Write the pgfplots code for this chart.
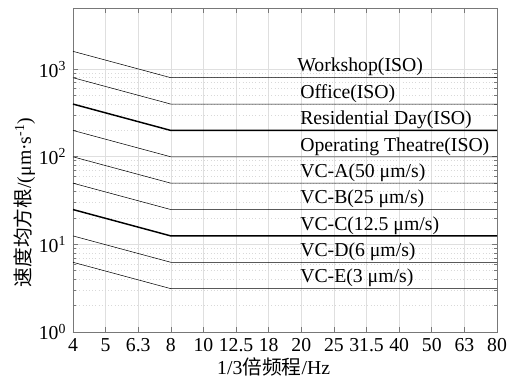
\documentclass[border=0pt]{standalone}
\usepackage{fontspec}
\setmainfont{Liberation Serif}
\newfontfamily\cjk{Noto Sans CJK SC}
\usepackage{pgfplots}
\pgfplotsset{compat=1.18}
\usetikzlibrary{calc}
\definecolor{axgray}{RGB}{120,120,120}
\begin{document}
\fontsize{14.8}{17}\selectfont
\begin{tikzpicture}
\begin{axis}[
  scale only axis, width=318pt, height=243pt,
  ymode=log, ymin=1, ymax=5000,
  xmin=0, xmax=13,
  xtick={0,1,2,3,4,5,6,7,8,9,10,11,12,13},
  xticklabels={4,5,6.3,8,10,12.5,18,20,25,31.5,40,50,63,80},
  ytick={1,10,100,1000},
  yticklabels={10\textsuperscript{0},10\textsuperscript{1},10\textsuperscript{2},10\textsuperscript{3}},
  font=\fontsize{14.8}{17}\selectfont,
  tick label style={font=\fontsize{14.8}{17}\selectfont\rmfamily},
  /pgf/number format/assume math mode=true,
  grid=both,
  major grid style={gray!25, line width=0.5pt},
  minor grid style={gray!30, dotted, line width=0.5pt},
  tick align=inside,
  major tick length=4pt, minor tick length=2.5pt,
  axis line style={axgray, line width=0.6pt},
  every tick/.style={axgray, line width=0.5pt},
  xlabel={1/3{\cjk 倍频程}/Hz},
  ylabel={{\cjk 速度均方根}/(μm·s\textsuperscript{-1})},
  ylabel style={at={(axis description cs:-0.073,0.117)}, anchor=south west},
  xlabel style={yshift=6pt, xshift=-8.5pt},
  cycle list={{black, solid, line width=1.1pt, mark=none}},
  clip=false,
]
\addplot coordinates {(0,1600) (3,800) (13,800)};
\addplot coordinates {(0,800) (3,400) (13,400)};
\addplot coordinates {(0,400) (3,200) (13,200)};
\addplot coordinates {(0,200) (3,100) (13,100)};
\addplot coordinates {(0,100) (3,50) (13,50)};
\addplot coordinates {(0,50) (3,25) (13,25)};
\addplot coordinates {(0,25) (3,12.5) (13,12.5)};
\addplot coordinates {(0,12.5) (3,6.25) (13,6.25)};
\addplot coordinates {(0,6.25) (3,3.125) (13,3.125)};
\begin{scope}[every node/.style={anchor=base west, inner sep=0pt, yshift=4.3pt}]
\node at (axis cs:6.87,800) {Workshop(ISO)};
\node at (axis cs:6.96,400) {Office(ISO)};
\node at (axis cs:6.96,200) {Residential Day(ISO)};
\node at (axis cs:6.96,100) {Operating Theatre(ISO)};
\node at (axis cs:6.96,50) {VC-A(50 μm/s)};
\node at (axis cs:6.96,25) {VC-B(25 μm/s)};
\node at (axis cs:6.96,12.5) {VC-C(12.5 μm/s)};
\node at (axis cs:6.96,6.25) {VC-D(6 μm/s)};
\node at (axis cs:6.96,3.125) {VC-E(3 μm/s)};
\end{scope}
\coordinate (bl) at (rel axis cs:0,0);
\coordinate (tr) at (rel axis cs:1,1);
\end{axis}
\pgfresetboundingbox
\path ($(bl)+(-54.75pt,-35.25pt)$) rectangle ($(tr)+(12pt,6pt)$);
\end{tikzpicture}
\end{document}
